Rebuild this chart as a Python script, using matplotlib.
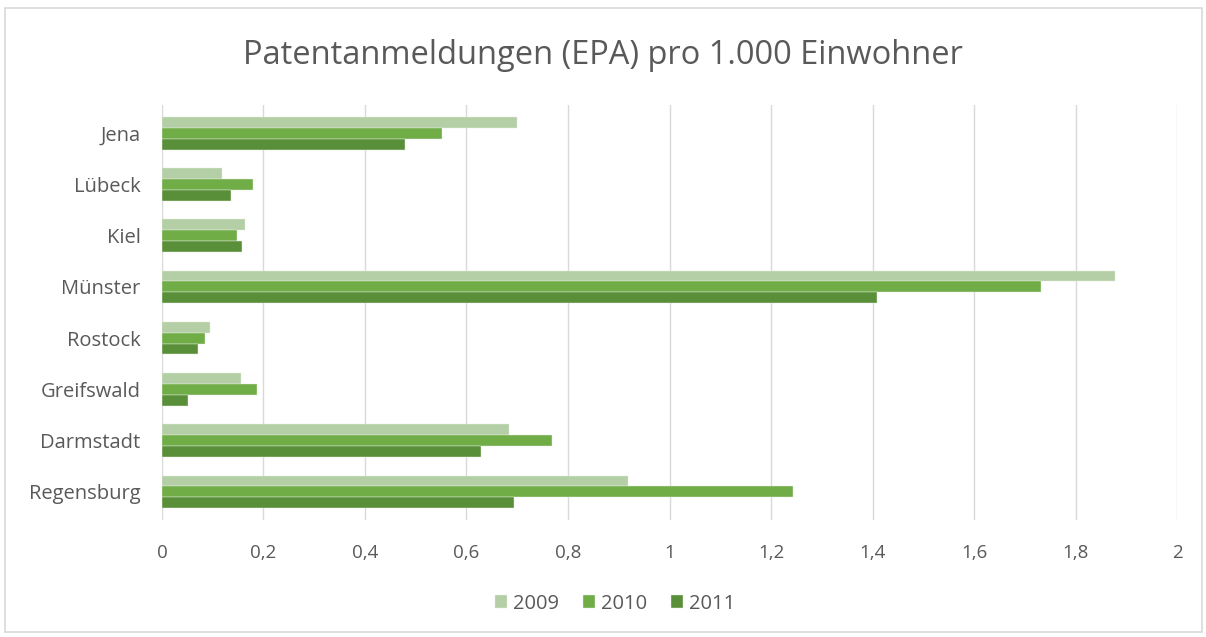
import numpy as np
import matplotlib.pyplot as plt
from matplotlib.patches import Rectangle

# data
cities = ['Jena', 'Lübeck', 'Kiel', 'Münster', 'Rostock', 'Greifswald', 'Darmstadt', 'Regensburg']
v2009 = [0.700, 0.119, 0.163, 1.878, 0.094, 0.155, 0.684, 0.918]
v2010 = [0.551, 0.180, 0.147, 1.732, 0.084, 0.188, 0.769, 1.244]
v2011 = [0.478, 0.137, 0.157, 1.409, 0.071, 0.051, 0.628, 0.693]
years = ['2009', '2010', '2011']
xticks = [0, 0.2, 0.4, 0.6, 0.8, 1, 1.2, 1.4, 1.6, 1.8, 2]

colors = ['#b4cfa6', '#70ad47', '#5a8f3a']
txt = '#595959'
plt.rcParams['font.family'] = ['Open Sans', 'DejaVu Sans']

fig = plt.figure(figsize=(12.06, 6.37), dpi=100)
fig.patches.append(Rectangle((0.004, 0.008), 0.993, 0.98, transform=fig.transFigure,
                             fill=False, edgecolor='#d9d9d9', linewidth=1.2))
ax = fig.add_axes([0.1343, 0.1837, 0.8417, 0.6514])

y = np.arange(len(cities))
h = 0.212
for k, (vals, yr) in enumerate(zip([v2009, v2010, v2011], years)):
    ax.barh(y + (k - 1) * h, vals, height=h, color=colors[k], label=yr,
            edgecolor='#e8f0e2', linewidth=0.3, zorder=3)

ax.set_ylim(len(cities) - 0.45, -0.55)
ax.set_xlim(0, 2)
ax.set_yticks(y)
ax.set_yticklabels(cities, fontsize=14.5, color=txt)
ax.set_xticks(xticks)
ax.set_xticklabels([f'{t:g}'.replace('.', ',') for t in xticks], fontsize=13.5, color=txt)
ax.tick_params(axis='x', length=0, pad=17)
ax.tick_params(axis='y', length=0, pad=15.5)
ax.grid(axis='x', color='#d9d9d9', linewidth=1, zorder=0)
for s in ax.spines.values():
    s.set_visible(False)

fig.suptitle('Patentanmeldungen (EPA) pro 1.000 Einwohner', fontsize=23.5, color=txt, y=0.938)
fig.legend(loc='center', bbox_to_anchor=(0.51, 0.052), ncol=3, frameon=False,
           fontsize=14.5, labelcolor=txt, handlelength=0.6, handleheight=0.6,
           handletextpad=0.3, columnspacing=1.2)

fig.savefig('out.png', dpi=100)
